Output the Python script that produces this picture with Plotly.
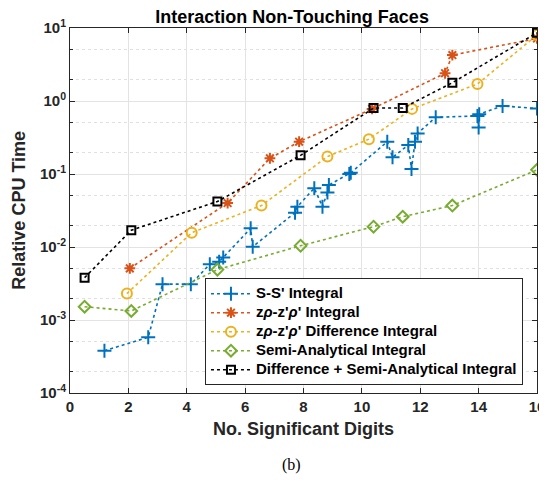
import plotly.graph_objects as go

ss_x = [1.18, 2.68, 3.17, 4.14, 4.79, 5.11, 5.25, 6.19, 6.26, 7.71, 7.79, 8.37, 8.65, 8.82, 8.87, 9.57, 9.62,
        10.87, 11.05, 11.59, 11.70, 11.82, 11.91, 12.53, 13.96, 14.0, 14.02, 14.82, 16.0]
ss_y = [0.00038, 0.00058, 0.0031, 0.0031, 0.0058, 0.0063, 0.0072, 0.018, 0.0101, 0.0295, 0.0356, 0.064, 0.0357,
        0.056, 0.0706, 0.1, 0.104, 0.277, 0.169, 0.249, 0.117, 0.277, 0.36, 0.598, 0.624, 0.435, 0.66, 0.855, 0.79]

zr_x = [2.05, 5.4, 6.85, 7.85, 10.35, 12.85, 13.1, 16.0]
zr_y = [0.0051, 0.04, 0.164, 0.277, 0.78, 2.4, 4.26, 7.2]

zd_x = [1.95, 4.17, 6.56, 8.82, 10.24, 11.72, 13.96, 16.0]
zd_y = [0.0023, 0.0157, 0.037, 0.173, 0.30, 0.78, 1.71, 8.0]

sa_x = [0.5, 2.1, 5.05, 7.9, 10.4, 11.4, 13.1, 16.0]
sa_y = [0.00152, 0.00133, 0.0049, 0.0104, 0.019, 0.026, 0.037, 0.114]

ds_x = [0.5, 2.1, 5.05, 7.9, 10.4, 11.4, 13.1, 16.0]
ds_y = [0.0038, 0.017, 0.042, 0.18, 0.8, 0.8, 1.78, 8.6]

names = ["S-S' Integral",
         "z<i>ρ</i>-z'<i>ρ</i>' Integral",
         "z<i>ρ</i>-z'<i>ρ</i>' Difference Integral",
         "Semi-Analytical Integral",
         "Difference + Semi-Analytical Integral"]

x_ticks = [0, 2, 4, 6, 8, 10, 12, 14, 16]
y_tickvals = [1e-4, 1e-3, 1e-2, 1e-1, 1e0, 1e1]
y_ticktext = ["10<sup>-4</sup>", "10<sup>-3</sup>", "10<sup>-2</sup>", "10<sup>-1</sup>", "10<sup>0</sup>", "10<sup>1</sup>"]

colors = ["#0072BD", "#D95319", "#EDB120", "#77AC30", "#000000"]
symbols = ["cross-thin-open", "asterisk-open", "circle-open", "diamond-open", "square-open"]
sizes = [10, 9, 10, 9, 8]

fig = go.Figure()
series = [(ss_x, ss_y), (zr_x, zr_y), (zd_x, zd_y), (sa_x, sa_y), (ds_x, ds_y)]
for i, (xs, ys) in enumerate(series):
    fig.add_trace(go.Scatter(
        x=xs, y=ys, mode="lines+markers",
        name=f'<span style="font-size:15px"><b>{names[i]}</b></span>',
        line=dict(color=colors[i], width=1.6, dash="dot"),
        marker=dict(symbol=symbols[i], size=sizes[i], color=colors[i],
                    line=dict(color=colors[i], width=2)),
    ))

font_main = "Liberation Sans, Arial, sans-serif"
# the page body offsets the figure by 8px, so the figure is 8px smaller and margins are shifted
fig.update_layout(
    width=539, height=475,
    margin=dict(l=62, r=10, t=20, b=90),
    paper_bgcolor="white", plot_bgcolor="white",
    font=dict(family=font_main, size=15, color="#262626"),
    title=dict(text="<b>Interaction Non-Touching Faces</b>", x=0.527, xanchor="center",
               yref="container", y=1 - 9 / 475, yanchor="middle", font=dict(size=18, color="black")),
    showlegend=True,
    legend=dict(x=0.289, y=0.168, xanchor="left", yanchor="middle",
                bgcolor="white", bordercolor="#262626", borderwidth=1,
                font=dict(size=12, color="black", family=font_main),
                tracegroupgap=0, itemwidth=40),
)
fig.update_xaxes(
    range=[0, 16], tickvals=x_ticks, ticktext=[f"<b>{t}</b>" for t in x_ticks],
    showgrid=True, gridcolor="#e3e3e3", gridwidth=1,
    showline=True, linecolor="#262626", linewidth=1, mirror="ticks",
    ticks="inside", ticklen=5, tickcolor="#262626", automargin=False,
    tickfont=dict(size=15, color="#262626"), ticklabeloverflow="allow",
    title=dict(text="<b>No. Significant Digits</b>", font=dict(size=18, color="#262626"), standoff=8),
    zeroline=False,
)
fig.update_yaxes(
    type="log", range=[-4, 1], tickvals=y_tickvals,
    ticktext=[f"<b>{t}</b>" for t in y_ticktext],
    showgrid=True, gridcolor="#e3e3e3", gridwidth=1,
    showline=True, linecolor="#262626", linewidth=1, mirror="ticks",
    ticks="inside", ticklen=5, tickcolor="#262626", automargin=False,
    tickfont=dict(size=15, color="#262626"), ticklabeloverflow="allow",
    minor=dict(ticks="inside", ticklen=3, tickcolor="#262626", showgrid=True,
               gridcolor="#e0e0e0", griddash="dot", gridwidth=1),
    zeroline=False,
)
fig.add_annotation(text="<b>Relative CPU Time</b>", xref="paper", yref="paper",
                   x=-0.111, y=0.5, xanchor="center", yanchor="middle", textangle=-90,
                   showarrow=False, font=dict(size=18, color="#262626", family=font_main))
fig.add_annotation(text="(b)", xref="paper", yref="paper", x=0.475, y=-0.197,
                   xanchor="center", yanchor="middle", showarrow=False,
                   font=dict(family="Liberation Serif, Times New Roman, serif", size=16, color="black"))

fig.write_html("out.html")
